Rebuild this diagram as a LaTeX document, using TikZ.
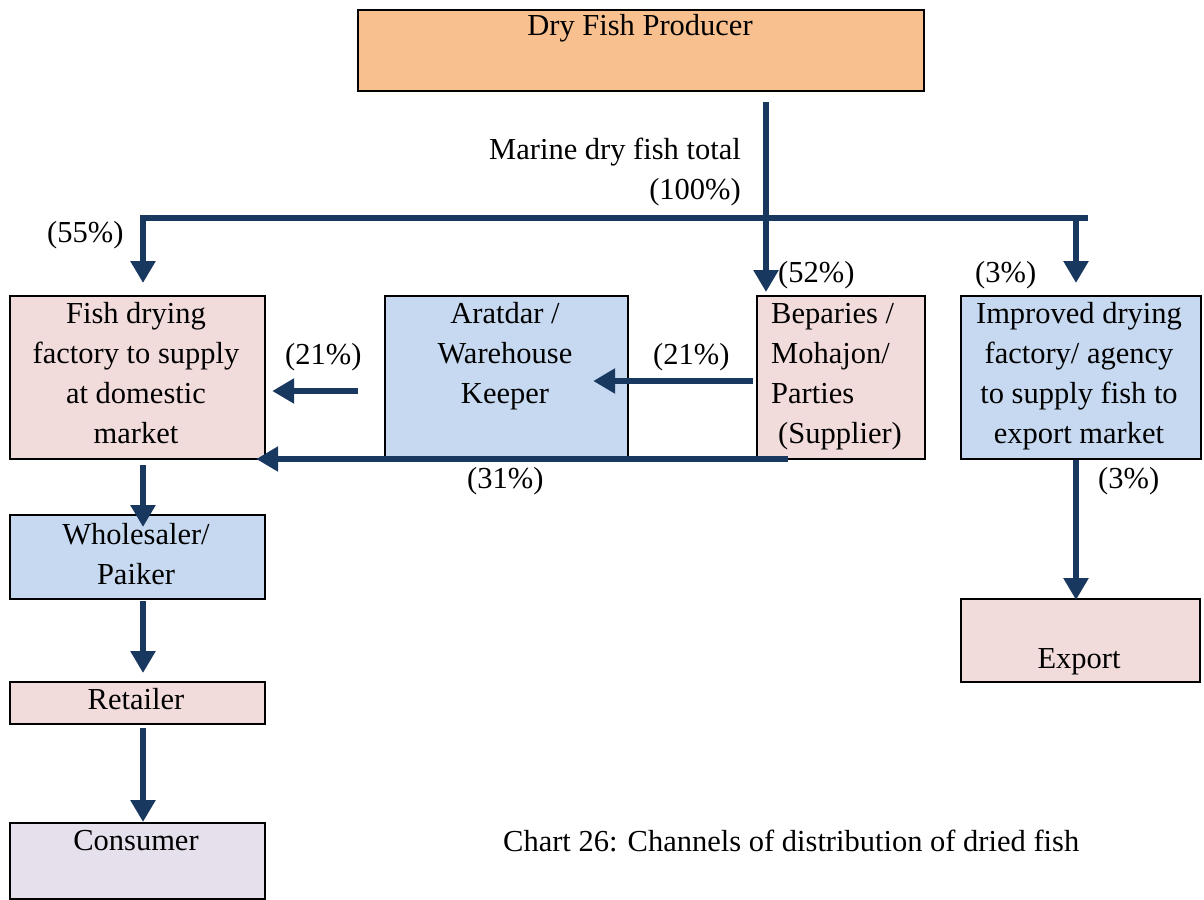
\documentclass[tikz,border=0pt]{standalone}
\usepackage{fontspec}
\setmainfont{Liberation Serif}
\usetikzlibrary{arrows.meta}
\definecolor{navy}{RGB}{24,56,96}
\definecolor{orangebox}{RGB}{249,192,143}
\definecolor{pinkbox}{RGB}{242,220,219}
\definecolor{bluebox}{RGB}{198,217,241}
\definecolor{lavbox}{RGB}{229,224,236}
\tikzset{
  box/.style={draw=black, line width=2.2pt, inner sep=0pt, anchor=north west},
  txt/.style={font=\fontsize{30.5}{40}\selectfont, inner sep=0pt, anchor=base, align=center},
  ltxt/.style={font=\fontsize{30.5}{40}\selectfont, inner sep=0pt, anchor=base west, align=left},
  flowline/.style={draw=navy, line width=6.5pt},
  flow/.style={flowline, -{Triangle[width=24pt,length=22pt]}},
}
\begin{document}
\begin{tikzpicture}[x=1pt,y=-1pt]
\useasboundingbox (0,0) rectangle (1204,899);
% boxes
\node[box, fill=orangebox, minimum width=566pt, minimum height=81pt] (prod) at (357,9) {};
\node[box, fill=pinkbox, minimum width=255pt, minimum height=163pt] (fish) at (9,295) {};
\node[box, fill=bluebox, minimum width=243pt, minimum height=163pt] (arat) at (384,295) {};
\node[box, fill=pinkbox, minimum width=168pt, minimum height=163pt] (bep) at (756,295) {};
\node[box, fill=bluebox, minimum width=240pt, minimum height=163pt] (impr) at (960,295) {};
\node[box, fill=bluebox, minimum width=255pt, minimum height=84pt] (whole) at (9,514) {};
\node[box, fill=pinkbox, minimum width=255pt, minimum height=42pt] (ret) at (9,681) {};
\node[box, fill=lavbox, minimum width=255pt, minimum height=76pt] (cons) at (9,822) {};
\node[box, fill=pinkbox, minimum width=239pt, minimum height=83pt] (exp) at (960,598) {};
% box texts (multi-line nodes: base = baseline of last line)
\node[txt] (tprod) at (640,36) {Dry Fish Producer};
\node[txt] (tfish) at (136,443) {Fish drying\\factory to supply\\at domestic\\market};
\node[txt] (tarat) at (505,403) {Aratdar /\\Warehouse\\Keeper};
\node[ltxt] (tbep) at (771,443) {Beparies /\\Mohajon/\\Parties\\\hspace*{7pt}(Supplier)};
\node[txt] (timpr) at (1079,443) {Improved drying\\factory/ agency\\to supply fish to\\export market};
\node[txt] (twhole) at (136,584) {Wholesaler/\\Paiker};
\node[txt] (tret) at (136,709) {Retailer};
\node[txt] (tcons) at (136,850) {Consumer};
\node[txt] (texp) at (1079,668) {Export};
\node[txt, anchor=base west] (cap) at (503,851) {Chart 26: Channels of distribution of dried fish};
% labels
\node[txt, anchor=base east, align=right] (lmarine) at (741,199) {Marine dry fish total\\(100\%)};
\node[txt, anchor=base west] (l55) at (47,242) {(55\%)};
\node[txt, anchor=base west] (l52) at (778,282) {(52\%)};
\node[txt, anchor=base west] (l3a) at (975,282) {(3\%)};
\node[txt, anchor=base west] (l21a) at (285,364) {(21\%)};
\node[txt, anchor=base west] (l21b) at (653,364) {(21\%)};
\node[txt, anchor=base west] (l31) at (467,488) {(31\%)};
\node[txt, anchor=base west] (l3b) at (1098,488) {(3\%)};
% connectors
\coordinate (trunk) at (766,102);
\coordinate (barL) at (140,218);
\coordinate (barR) at (1088,218);
\coordinate (dropL) at (143,218);
\coordinate (dropR) at (1076,218);
\draw[flowline] (barL) -- (barR);
\draw[flow, shorten >=3pt] (trunk) -- (trunk |- bep.north);
\draw[flow, shorten >=12pt] ([yshift=3.25pt]dropL) -- (dropL |- fish.north);
\draw[flow, shorten >=12pt] ([yshift=3.25pt]dropR) -- (dropR |- impr.north);
\coordinate (a1) at (358,391);
\draw[flow] (a1) -- ([xshift=6pt]fish.east |- a1);
\coordinate (b1) at (753,381);
\draw[flow] (b1) -- ([xshift=-36pt]arat.east |- b1);
\coordinate (c1) at (788,459);
\draw[flow] (c1) -- ([xshift=-10pt]fish.east |- c1);
\coordinate (d1) at (143,465);
\draw[flow] (d1) -- ([yshift=-13pt]whole.north -| d1);
\coordinate (d2) at (143,601);
\draw[flow, shorten >=8pt] (d2) -- (ret.north -| d2);
\coordinate (d3) at (143,728);
\draw[flow] (d3) -- (cons.north -| d3);
\coordinate (e1) at (1076,460);
\draw[flow] (e1) -- ([yshift=-2pt]exp.north -| e1);
\end{tikzpicture}
\end{document}
